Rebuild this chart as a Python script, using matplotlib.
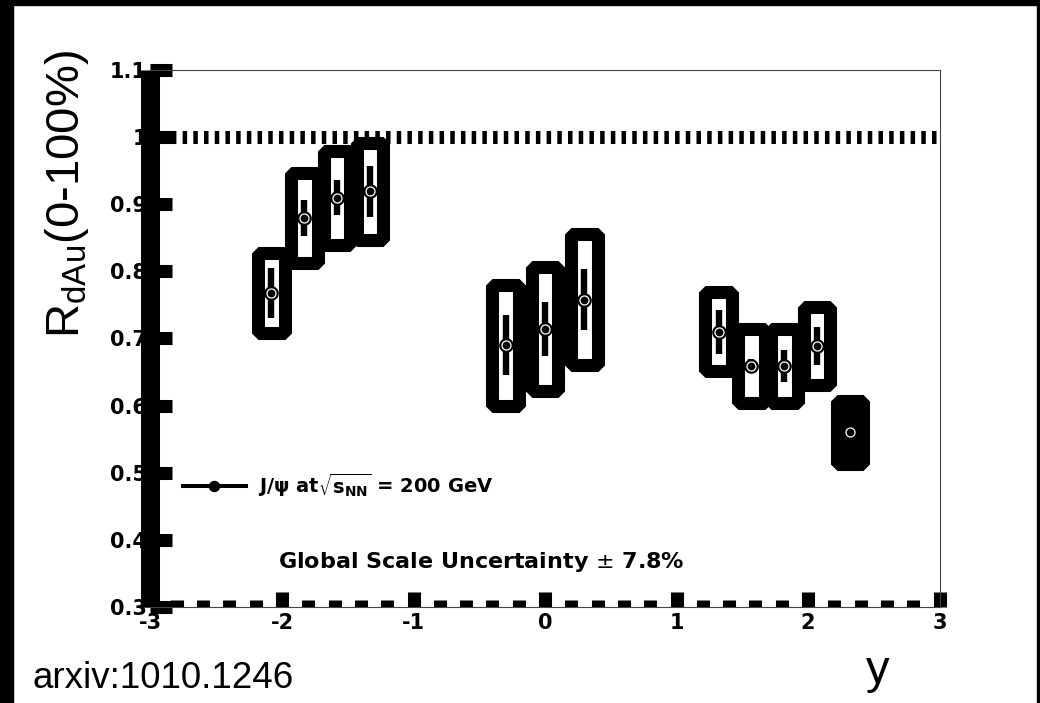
import matplotlib
matplotlib.use("Agg")
import matplotlib.pyplot as plt
from matplotlib.patches import Rectangle
from matplotlib.lines import Line2D

plt.rcParams["axes.unicode_minus"] = False

# J/psi R_dAu vs rapidity
rap = [-2.08, -1.83, -1.58, -1.33, -0.30, 0.00, 0.30, 1.32, 1.57, 1.82, 2.07, 2.32]
rdau = [0.768, 0.880, 0.910, 0.919, 0.690, 0.714, 0.758, 0.710, 0.659, 0.659, 0.689, 0.560]
stat_err = [0.037, 0.027, 0.026, 0.038, 0.045, 0.040, 0.046, 0.033, 0.010, 0.024, 0.028, 0.010]
sys_err = [0.060, 0.067, 0.070, 0.072, 0.090, 0.092, 0.098, 0.059, 0.055, 0.055, 0.058, 0.047]

x_ticks = [-3, -2, -1, 0, 1, 2, 3]
x_labels = ["-3", "-2", "-1", "0", "1", "2", "3"]
y_ticks = [0.3, 0.4, 0.5, 0.6, 0.7, 0.8, 0.9, 1.0, 1.1]
y_labels = ["0.3", "0.4", "0.5", "0.6", "0.7", "0.8", "0.9", "1", "1.1"]

bold = dict(family="DejaVu Sans", weight="bold")

fig = plt.figure(figsize=(10.4, 7.03), dpi=100)
ax = fig.add_axes([0.1447, 0.13656, 0.7587, 0.76387])

# systematic boxes
for i in range(len(rap)):
    ax.add_patch(Rectangle((rap[i] - 0.1, rdau[i] - sys_err[i]), 0.2, 2 * sys_err[i],
                           facecolor="black" if i == len(rap) - 1 else "none",
                           edgecolor="black", lw=9.4, joinstyle="bevel", zorder=3))

ax.errorbar(rap, rdau, yerr=stat_err, fmt="none", ecolor="black", elinewidth=4.6,
            capsize=0, zorder=4)
ax.plot(rap, rdau, "o", ms=9.5, mfc="black", mec="black", zorder=5)
ax.plot(rap, rdau, "o", ms=6.5, mfc="none", mec="white", mew=0.9, zorder=6)

ax.axhline(1.0, color="black", lw=9.4, dashes=(0.345, 0.475), zorder=2)

ax.set_xlim(-3, 3)
ax.set_ylim(0.3, 1.1)
ax.set_xticks(x_ticks)
ax.set_xticklabels(x_labels, fontsize=15, **bold)
ax.set_xticks([t / 5 for t in range(-15, 16)], minor=True)
ax.set_yticks(y_ticks)
ax.set_yticklabels(y_labels, fontsize=15, **bold)

ax.tick_params(axis="x", which="major", direction="in", length=10.8, width=9.4, pad=4, color="black")
ax.tick_params(axis="x", which="minor", direction="in", length=5, width=9.4, color="black")
ax.tick_params(axis="y", which="major", direction="in", length=16, width=9.4, pad=2.5, color="black")

ax.spines["left"].set_linewidth(13.7)
ax.spines["left"].set_color("black")
ax.spines["left"].set_capstyle("butt")
for s in ["top", "right", "bottom"]:
    ax.spines[s].set_linewidth(0.8)
    ax.spines[s].set_color("#444444")

# legend and annotation
h = Line2D([], [], color="black", lw=2.9, marker="o", ms=7.2)
ax.legend([h], [r"J/ψ at$\sqrt{\mathregular{s}_{\mathregular{NN}}}$ = 200 GeV"],
          loc="center left", bbox_to_anchor=(0.041, 0.227), frameon=False,
          borderpad=0, borderaxespad=0, handlelength=3.24, handletextpad=0.62,
          numpoints=1, prop=dict(family="DejaVu Sans", weight="bold", size=14))
ax.text(0.1616, 0.0726, r"Global Scale Uncertainty $\pm$ 7.8%", transform=ax.transAxes,
        ha="left", va="baseline", fontsize=16, **bold)

fig.text(79 / 1040, 1 - 338 / 703, r"R$_{\mathregular{dAu}}$(0-100%)", rotation=90,
         rotation_mode="anchor", ha="left", va="baseline", fontsize=34,
         family="Liberation Sans")
fig.text(878 / 1040, 1 - 683 / 703, "y", ha="center", va="baseline", fontsize=34,
         family="Liberation Sans")
fig.text(33 / 1040, 1 - 688 / 703, "arxiv:1010.1246", ha="left", va="baseline",
         fontsize=26.5, family="Liberation Sans")

# black frame around the image
for r in [(0, 1 - 5 / 703, 1, 5 / 703), (0, 0, 13 / 1040, 1), (1037 / 1040, 0, 3 / 1040, 1)]:
    fig.patches.append(Rectangle(r[:2], r[2], r[3], transform=fig.transFigure,
                                 figure=fig, color="black"))

fig.savefig("out.png", dpi=100)
